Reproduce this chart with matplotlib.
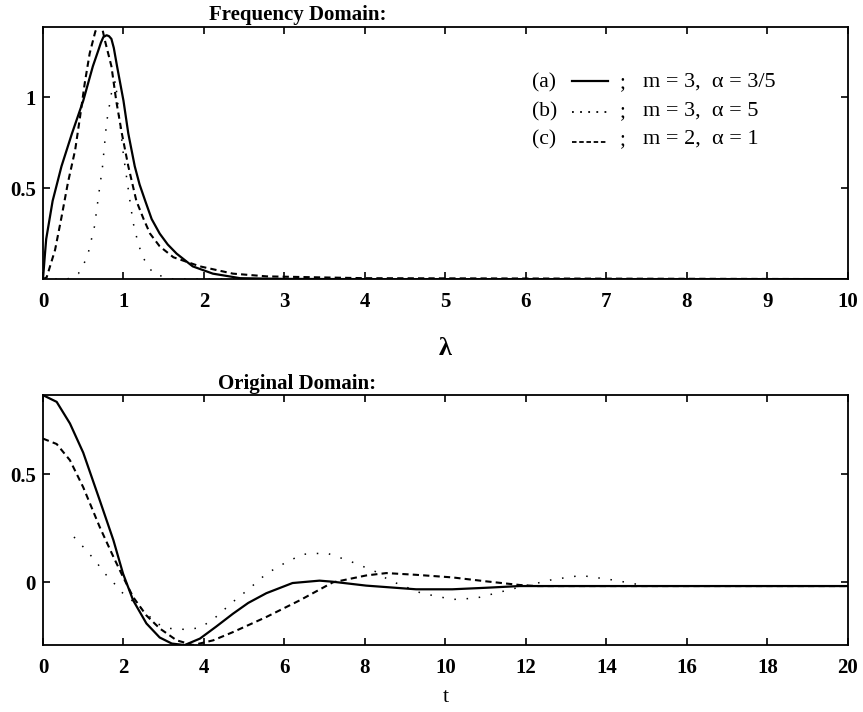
import matplotlib
matplotlib.use("Agg")
import matplotlib.pyplot as plt
from matplotlib.lines import Line2D

plt.rcParams['font.family'] = ['Liberation Serif', 'DejaVu Serif']
plt.rcParams['font.weight'] = 'bold'

# ---- frequency domain (top) ----
lam_a = [0, 0.025, 0.04, 0.12, 0.23, 0.36, 0.5, 0.62, 0.69, 0.72, 0.75, 0.79, 0.82,
         0.85, 0.88, 0.92, 1.0, 1.06, 1.14, 1.2, 1.27, 1.35, 1.45, 1.55, 1.66, 1.86,
         2.11, 2.45, 3.0, 4.0, 10.0]
freq_a = [0, 0.14, 0.22, 0.43, 0.62, 0.80, 0.98, 1.17, 1.26, 1.30, 1.33, 1.34, 1.335,
          1.32, 1.27, 1.17, 0.98, 0.80, 0.62, 0.52, 0.43, 0.33, 0.25, 0.19, 0.14, 0.07,
          0.03, 0.005, 0.001, 0.0, 0.0]

lam_b = [0, 0.3, 0.44, 0.55, 0.64, 0.7, 0.74, 0.79, 0.85, 0.9, 0.95, 1.0,
         1.08, 1.12, 1.18, 1.24, 1.37, 1.6, 10.0]
freq_b = [0, 0.0, 0.03, 0.12, 0.29, 0.49, 0.62, 0.86, 1.02, 1.09, 0.88, 0.68,
          0.43, 0.31, 0.20, 0.12, 0.03, 0.0, 0.0]

lam_c = [0, 0.046, 0.15, 0.23, 0.31, 0.4, 0.46, 0.52, 0.58, 0.65, 0.68, 0.71, 0.74,
         0.77, 0.85, 0.91, 0.98, 1.06, 1.16, 1.25, 1.33, 1.45, 1.62, 1.95, 2.36,
         2.78, 4.0, 10.0]
freq_c = [0, 0.01, 0.16, 0.34, 0.53, 0.71, 0.89, 1.08, 1.24, 1.36, 1.39, 1.40, 1.37,
          1.31, 1.17, 0.98, 0.80, 0.62, 0.43, 0.33, 0.25, 0.18, 0.12, 0.07, 0.03,
          0.015, 0.005, 0.0]

# ---- original domain (bottom) ----
t_a = [0, 0.34, 0.67, 1.0, 1.41, 1.75, 1.99, 2.24, 2.57, 2.9, 3.2, 3.52, 3.9,
       4.3, 4.72, 5.1, 5.55, 6.2, 6.87, 7.2, 8.03, 9.27, 10.17, 11.0, 11.84, 13.0, 20.0]
orig_a = [0.866, 0.835, 0.735, 0.60, 0.38, 0.195, 0.04, -0.083, -0.19, -0.255,
          -0.283, -0.29, -0.26, -0.205, -0.145, -0.095, -0.05, -0.003, 0.008,
          0.003, -0.015, -0.032, -0.032, -0.025, -0.017, -0.017, -0.017]

t_b = [0.77, 1.02, 1.33, 1.49, 1.75, 1.92, 2.32, 2.5, 2.82, 3.15, 3.56, 3.9,
       4.23, 4.72, 5.1, 5.55, 6.05, 6.46, 7.04, 7.6, 8.24, 8.6, 9.4, 10.18,
       10.76, 11.67, 12.66, 13.37, 14.2, 15.0, 20.0]
orig_b = [0.21, 0.16, 0.094, 0.05, 0.0, -0.04, -0.10, -0.13, -0.19, -0.213,
          -0.218, -0.21, -0.171, -0.09, -0.033, 0.04, 0.094, 0.13, 0.136, 0.10,
          0.052, 0.01, -0.05, -0.079, -0.073, -0.03, 0.013, 0.032, 0.01, -0.017, -0.017]

t_c = [0, 0.34, 0.67, 1.0, 1.41, 1.75, 1.99, 2.24, 2.57, 2.9, 3.32, 3.73, 4.23,
       4.72, 5.55, 6.38, 7.2, 8.03, 8.53, 9.27, 10.17, 11.0, 11.84, 12.25, 20.0]
orig_c = [0.665, 0.64, 0.565, 0.44, 0.256, 0.118, 0.025, -0.068, -0.153, -0.213,
          -0.268, -0.29, -0.268, -0.23, -0.16, -0.083, 0.0, 0.032, 0.043, 0.035,
          0.023, 0.005, -0.012, -0.017, -0.017]

legend_tags = ['(a)', '(b)', '(c)']
legend_params = ['m = 3,  \u03b1 = 3/5', 'm = 3,  \u03b1 = 5', 'm = 2,  \u03b1 = 1']

solid = dict(color='black', lw=1.6, ls='-')
dotted = dict(color='black', lw=1.1, ls=(0, (1, 7)))
dashed = dict(color='black', lw=1.5, ls=(0, (3, 2)))
# denser patterns for the little samples in the legend
key_styles = [dict(color='black', lw=1.6, ls='-'),
              dict(color='black', lw=1.3, ls=(0, (1, 3.5))),
              dict(color='black', lw=1.3, ls=(0, (2.5, 1.5)))]


def style_axes(ax):
    for s in ax.spines.values():
        s.set_linewidth(1.3)
    ax.tick_params(direction='in', top=True, right=True, length=5, width=1.2,
                   labelsize=15)
    ax.tick_params(axis='x', pad=9)
    ax.tick_params(axis='y', pad=5)


fig = plt.figure(figsize=(8.63, 7.12), dpi=100)
ax1 = fig.add_axes([0.0498, 0.608, 0.9328, 0.354])
ax2 = fig.add_axes([0.0498, 0.094, 0.9328, 0.351])

# top panel
ax1.plot(lam_a, freq_a, **solid)
ax1.plot(lam_b, freq_b, **dotted)
ax1.plot(lam_c, freq_c, **dashed)
ax1.set_xlim(0, 10)
ax1.set_ylim(0, 1.385)
ax1.set_xticks(range(0, 11))
ax1.set_yticks([0.5, 1])
ax1.set_yticklabels(['0.5', '1'])
style_axes(ax1)
ax1.text(0.316, 1.028, 'Frequency Domain:', transform=ax1.transAxes,
         ha='center', va='baseline', fontsize=15)
ax1.set_xlabel('\u03bb', fontsize=19, va='center', fontweight='bold')
ax1.xaxis.set_label_coords(0.5, -0.274)

# legend drawn by hand: tag, line sample, semicolon, parameters
row_y = [0.762, 0.647, 0.536]
sample_dy = [0.025, 0.016, 0.008]
for tag, par, y, dy, st in zip(legend_tags, legend_params, row_y, sample_dy, key_styles):
    ax1.text(0.607, y, tag, transform=ax1.transAxes, va='baseline',
             fontsize=15.5, fontweight='normal')
    ax1.add_line(Line2D([0.657, 0.702], [y + dy, y + dy], transform=ax1.transAxes, **st))
    ax1.text(0.717, y, ';', transform=ax1.transAxes, va='baseline',
             fontsize=15.5, fontweight='normal')
    ax1.text(0.745, y, par, transform=ax1.transAxes, va='baseline',
             fontsize=16, fontweight='normal')

# bottom panel
ax2.plot(t_a, orig_a, **solid)
ax2.plot(t_b, orig_b, **dotted)
ax2.plot(t_c, orig_c, **dashed)
ax2.set_xlim(0, 20)
ax2.set_ylim(-0.29, 0.866)
ax2.set_xticks(range(0, 21, 2))
ax2.set_yticks([0, 0.5])
ax2.set_yticklabels(['0', '0.5'])
style_axes(ax2)
ax2.text(0.316, 1.024, 'Original Domain:', transform=ax2.transAxes,
         ha='center', va='baseline', fontsize=15)
ax2.set_xlabel('t', fontsize=16, va='center')
ax2.xaxis.set_label_coords(0.5, -0.208)

fig.savefig('out.png', dpi=100)
